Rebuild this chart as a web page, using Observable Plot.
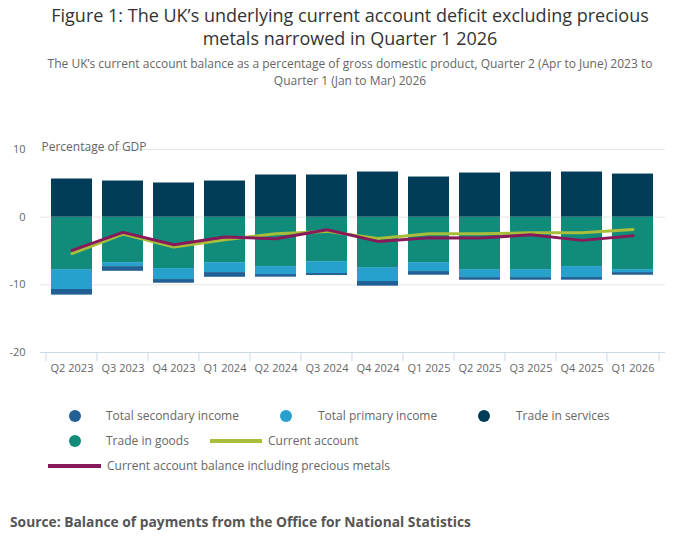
<!DOCTYPE html>
<html>
<head>
<meta charset="utf-8">
<script src="https://cdn.jsdelivr.net/npm/d3@7"></script>
<script src="https://cdn.jsdelivr.net/npm/@observablehq/plot@0.6"></script>
<style>
  body { margin: 0; background: #fff; font-family: "Open Sans", sans-serif; }
  #wrap { position: relative; width: 700px; height: 549px; overflow: hidden; }
  .title { position: absolute; left: 0; width: 700px; top: 4px; text-align: center; font-size: 18px; line-height: 23px; color: #333; }
  .subtitle { position: absolute; left: 0; width: 700px; top: 56px; text-align: center; font-size: 12px; line-height: 16.5px; color: #666; }
  #chart { position: absolute; left: 0; top: 131px; }
  .leg { position: absolute; font-size: 12px; color: #666; white-space: nowrap; line-height: 16px; }
  .dot { position: absolute; width: 12px; height: 12px; border-radius: 50%; }
  .ln { position: absolute; height: 4px; }
  .source { position: absolute; left: 10px; top: 512px; font-size: 13.8px; font-weight: bold; color: #555; white-space: nowrap; }
</style>
</head>
<body>
<div id="wrap">
  <div class="title">Figure 1: The UK’s underlying current account deficit excluding precious<br>metals narrowed in Quarter 1 2026</div>
  <div class="subtitle">The UK’s current account balance as a percentage of gross domestic product, Quarter 2 (Apr to June) 2023 to<br>Quarter 1 (Jan to Mar) 2026</div>
  <div id="chart"></div>
  <div id="legend"></div>
  <div class="source">Source: Balance of payments from the Office for National Statistics</div>
</div>
<script>
const quarters = ["Q2 2023","Q3 2023","Q4 2023","Q1 2024","Q2 2024","Q3 2024","Q4 2024","Q1 2025","Q2 2025","Q3 2025","Q4 2025","Q1 2026"];
const tradeGoods      = [-7.75,-6.72,-7.60,-6.72,-7.30,-6.57,-7.45,-6.72,-7.75,-7.75,-7.30,-7.75];
const primaryIncome   = [-2.94,-0.59,-1.62,-1.47,-1.18,-1.76,-2.06,-1.32,-1.18,-1.18,-1.62,-0.44];
const secondaryIncome = [-0.83,-0.69,-0.54,-0.69,-0.39,-0.29,-0.69,-0.54,-0.39,-0.39,-0.39,-0.39];
const tradeServices   = [5.64,5.34,5.05,5.34,6.23,6.23,6.67,5.93,6.52,6.67,6.67,6.37];
const currentAccount  = [-5.40,-2.50,-4.40,-3.33,-2.45,-2.10,-3.14,-2.45,-2.45,-2.30,-2.30,-1.81];
const inclMetals      = [-4.90,-2.25,-4.07,-2.94,-3.19,-1.86,-3.58,-3.04,-3.09,-2.60,-3.43,-2.75];
const yTicks = [10, 0, -10, -20];
const gridTicks = [10, 0, -10];

const seriesNames = ["Trade in goods","Total primary income","Total secondary income","Trade in services"];
const seriesColors = ["#118c7b","#27a0cc","#206095","#003c57"];
const seriesValues = [tradeGoods, primaryIncome, secondaryIncome, tradeServices];

const bars = [];
quarters.forEach((q, i) => {
  seriesNames.forEach((s, j) => bars.push({quarter: q, series: s, value: seriesValues[j][i]}));
});
const caData = quarters.map((q, i) => ({quarter: q, value: currentAccount[i]}));
const pmData = quarters.map((q, i) => ({quarter: q, value: inclMetals[i]}));

const W = 700, H = 250, mL = 40, mR = 35, mT = 18, mB = 29;
const step = (W - mL - mR) / quarters.length;

const plot = Plot.plot({
  width: W, height: H,
  marginLeft: mL, marginRight: mR, marginTop: mT, marginBottom: mB,
  style: {fontFamily: "Open Sans, sans-serif", fontSize: "11px", color: "#666", background: "#fff"},
  x: {domain: quarters, padding: 0.19, label: null},
  y: {domain: [-20, 10], label: null},
  color: {domain: seriesNames, range: seriesColors},
  marks: [
    Plot.ruleY(gridTicks, {stroke: "#e6e6e6", strokeWidth: 1}),
    Plot.ruleY([-20], {stroke: "#ccd6eb", strokeWidth: 1}),
    Plot.ruleX(quarters, {x: d => d, dx: -step / 2, y1: -20, y2: -21.35, stroke: "#ccd6eb"}),
    Plot.ruleX([quarters[quarters.length - 1]], {x: d => d, dx: step / 2, y1: -20, y2: -21.35, stroke: "#ccd6eb"}),
    Plot.barY(bars, {x: "quarter", y: "value", fill: "series"}),
    Plot.line(caData, {x: "quarter", y: "value", stroke: "#a8bd3a", strokeWidth: 3}),
    Plot.line(pmData, {x: "quarter", y: "value", stroke: "#871a5b", strokeWidth: 3}),
    Plot.axisY(yTicks, {tickSize: 0, tickPadding: 15, fontSize: 11, fill: "#666", label: null, tickFormat: d => String(d)}),
    Plot.axisX({tickSize: 0, tickPadding: 12, fontSize: 11, fill: "#666", label: null}),
    Plot.text(["Percentage of GDP"], {frameAnchor: "top-left", dy: -7, dx: 1, textAnchor: "start", fontSize: 12, fill: "#666"})
  ]
});
document.getElementById("chart").appendChild(plot);

// Legend
const legend = document.getElementById("legend");
function addDot(color, x, y) { const d = document.createElement("div"); d.className = "dot"; d.style.background = color; d.style.left = (x - 6) + "px"; d.style.top = (y - 6) + "px"; legend.appendChild(d); }
function addLine(color, x1, x2, y) { const d = document.createElement("div"); d.className = "ln"; d.style.background = color; d.style.left = x1 + "px"; d.style.width = (x2 - x1) + "px"; d.style.top = (y - 2) + "px"; legend.appendChild(d); }
function addText(t, x, y) { const d = document.createElement("div"); d.className = "leg"; d.textContent = t; d.style.left = x + "px"; d.style.top = (y - 8) + "px"; legend.appendChild(d); }
addDot("#206095", 75, 416); addText("Total secondary income", 106, 416);
addDot("#27a0cc", 286, 416); addText("Total primary income", 318, 416);
addDot("#003c57", 484, 416); addText("Trade in services", 516, 416);
addDot("#118c7b", 75, 441); addText("Trade in goods", 106, 441);
addLine("#a8bd3a", 210, 262, 441); addText("Current account", 268, 441);
addLine("#871a5b", 48, 101, 466); addText("Current account balance including precious metals", 107, 466);
</script>
</body>
</html>
